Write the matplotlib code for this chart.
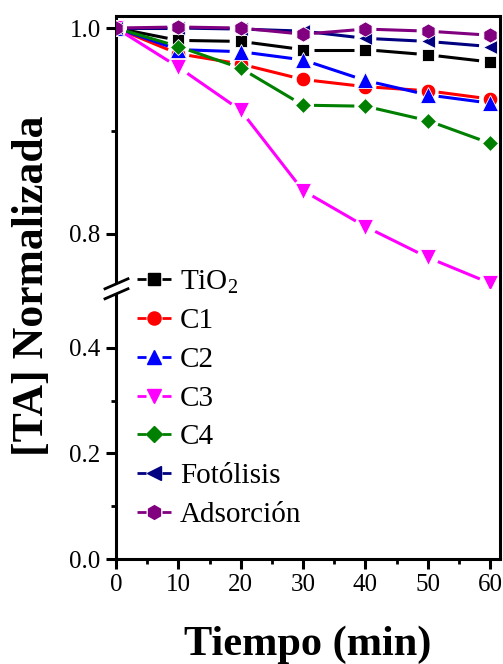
import numpy as np
import matplotlib
matplotlib.use("Agg")
import matplotlib.pyplot as plt
from matplotlib.lines import Line2D
from matplotlib.patches import Polygon

plt.rcParams['font.family'] = ['Liberation Serif', 'DejaVu Serif']
plt.rcParams['mathtext.fontset'] = 'custom'
plt.rcParams['mathtext.rm'] = 'Liberation Serif'
plt.rcParams['lines.scale_dashes'] = False

# Data: normalized TA concentration vs irradiation time
tiempo = [0, 10, 20, 30, 40, 50, 60]
tio2 = [1.000, 0.988, 0.987, 0.979, 0.979, 0.974, 0.967]
c1 = [1.000, 0.975, 0.965, 0.950, 0.943, 0.939, 0.931]
c2 = [1.000, 0.979, 0.977, 0.969, 0.949, 0.935, 0.927]
c3 = [1.000, 0.962, 0.920, 0.842, 0.807, 0.777, 0.752]
c4 = [1.000, 0.982, 0.961, 0.925, 0.924, 0.910, 0.888]
fotolisis = [1.000, 1.000, 0.999, 0.997, 0.990, 0.987, 0.982]
adsorcion = [1.000, 1.001, 1.000, 0.994, 0.999, 0.997, 0.993]

labels = [r'TiO$_2$', 'C1', 'C2', 'C3', 'C4', 'Fotólisis', 'Adsorción']
series = [tio2, c1, c2, c3, c4, fotolisis, adsorcion]
colors = ['#000000', '#FF0000', '#0000FF', '#FF00FF', '#008000', '#000080', '#800080']
markers = ['s', 'o', '^', 'v', 'D', '<', 'h']
msizes = [9, 10.5, 11, 11, 8.5, 10.5, 11]

upper_ticks = [0.8, 1.0]
lower_ticks = [0.0, 0.2, 0.4]
x_ticks = [0, 10, 20, 30, 40, 50, 60]

W, H = 503, 664
fig = plt.figure(figsize=(W / 100, H / 100), dpi=100)

def fx(px):
    return px / W

def fy(py):
    return 1 - py / H

left_px, right_px = 116, 500
top_px, break_px, bottom_px = 16, 289, 559

ax_top = fig.add_axes([fx(left_px), fy(break_px), fx(right_px - left_px), (break_px - top_px) / H])
ax_bot = fig.add_axes([fx(left_px), fy(bottom_px), fx(right_px - left_px), (bottom_px - break_px) / H])

xlim = (0, 61.6)
ax_top.set_xlim(*xlim)
ax_bot.set_xlim(*xlim)
ax_top.set_ylim(0.7463, 1.0117)
ax_bot.set_ylim(0.0, 0.5113)

lw_spine = 2.2
for ax in (ax_top, ax_bot):
    for s in ax.spines.values():
        s.set_linewidth(lw_spine)
ax_top.spines['bottom'].set_visible(False)
ax_bot.spines['top'].set_visible(False)

tick_kw = dict(direction='out', labelsize=18, pad=4)
ax_top.set_yticks(upper_ticks)
ax_top.set_yticks([0.9], minor=True)
ax_top.set_yticklabels([f'{v:.1f}' for v in upper_ticks])
ax_top.tick_params(axis='y', which='major', length=7, width=2.2, **tick_kw)
ax_top.tick_params(axis='y', which='minor', length=3.5, width=2.0, direction='out')
ax_top.tick_params(axis='x', which='both', bottom=False, top=False, labelbottom=False)

ax_bot.set_yticks(lower_ticks)
ax_bot.set_yticks([0.1, 0.3], minor=True)
ax_bot.set_yticklabels([f'{v:.1f}' for v in lower_ticks])
ax_bot.set_xticks(x_ticks)
ax_bot.set_xticks([5, 15, 25, 35, 45, 55], minor=True)
ax_bot.tick_params(axis='both', which='major', length=7, width=2.2, **tick_kw)
ax_bot.tick_params(axis='both', which='minor', length=3.5, width=2.0, direction='out')

# Lines with small gaps around each marker
gap_px = 11
lw_line = 2.2
to_disp = ax_top.transData
from_disp = ax_top.transData.inverted()
for i, (yv, c, m, ms) in enumerate(zip(series, colors, markers, msizes)):
    pts = to_disp.transform(np.column_stack([tiempo, yv]))
    for p0, p1 in zip(pts[:-1], pts[1:]):
        d = p1 - p0
        L = np.hypot(*d)
        if L <= 2 * gap_px:
            continue
        u = d / L
        seg = from_disp.transform(np.vstack([p0 + u * gap_px, p1 - u * gap_px]))
        ax_top.plot(seg[:, 0], seg[:, 1], color=c, lw=lw_line,
                    solid_capstyle='butt', zorder=2 + 2 * i)
    ax_top.plot(tiempo, yv, linestyle='none', marker=m, ms=ms, color=c,
                markeredgecolor='white', markeredgewidth=0.6, zorder=3 + 2 * i)

# Axis break marks on the left spine
yb = break_px
gap_half = 5
dx_left, dx_right = 11, 12
rise = 10
white = Polygon([[fx(left_px - dx_left), fy(yb + gap_half + rise / 2 * dx_left / 11.5)],
                 [fx(left_px + dx_right), fy(yb + gap_half - rise / 2 * dx_right / 11.5)],
                 [fx(left_px + dx_right), fy(yb - gap_half - rise / 2 * dx_right / 11.5)],
                 [fx(left_px - dx_left), fy(yb - gap_half + rise / 2 * dx_left / 11.5)]],
                closed=True, transform=fig.transFigure, facecolor='white',
                edgecolor='none', zorder=20)
fig.add_artist(white)
for off in (-gap_half, gap_half):
    y0 = yb + off + rise / 2 * dx_left / 11.5
    y1 = yb + off - rise / 2 * dx_right / 11.5
    fig.add_artist(Line2D([fx(left_px - dx_left), fx(left_px + dx_right)],
                          [fy(y0), fy(y1)], transform=fig.transFigure,
                          color='black', lw=2.0, zorder=21))

# Legend
handles = [Line2D([], [], color=c, lw=2.0, marker=m, ms=ms * 0.9,
                  markeredgecolor=c, dashes=(6.5, 11.5))
           for c, m, ms in zip(colors, markers, msizes)]
fig.legend(handles, labels, loc='upper left',
           bbox_to_anchor=(fx(137), fy(268)), frameon=False, fontsize=21,
           handlelength=1.17, handletextpad=0.3, labelspacing=0.42,
           borderpad=0, borderaxespad=0, numpoints=1)

fig.text(fx(308), fy(655), 'Tiempo (min)', ha='center', va='baseline',
         fontsize=30.5, fontweight='bold')
fig.text(fx(32), fy(286), '[TA] Normalizada', ha='center', va='center',
         rotation=90, fontsize=31.5, fontweight='bold')

fig.savefig('out.png', dpi=100)
